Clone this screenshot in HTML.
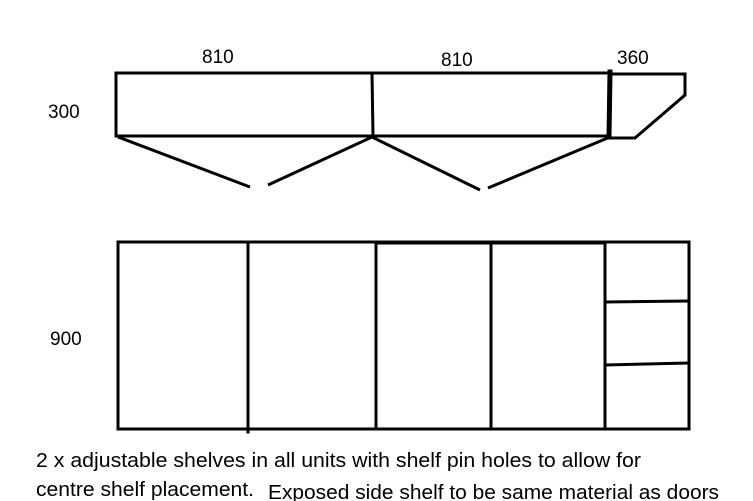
<!DOCTYPE html>
<html><head><meta charset="utf-8"><style>
html,body{margin:0;padding:0;background:#fff;width:753px;height:501px;overflow:hidden}
svg{display:block}
text{font-family:"Liberation Sans",sans-serif;fill:#000}
</style></head><body>
<svg width="753" height="501" viewBox="0 0 753 501" xmlns="http://www.w3.org/2000/svg">
<g fill="none" stroke="#000" stroke-width="3" stroke-linecap="square">
<!-- top plan -->
<line x1="116" y1="73" x2="610" y2="73"/>
<line x1="116" y1="136" x2="610" y2="136"/>
<line x1="116" y1="73" x2="116" y2="136"/>
<line x1="372" y1="73" x2="373" y2="136"/>
<line x1="610" y1="72" x2="609" y2="137" stroke-width="5"/>
<polyline points="612,74 685,74 685,95 635,138 612,138"/>
<polyline points="118,137 250,187" stroke-linecap="butt"/>
<polyline points="268,185 372,137 480,190" stroke-linecap="butt"/>
<polyline points="488,188 610,137" stroke-linecap="butt"/>
<!-- elevation -->
<rect x="118" y="242" width="571" height="187"/>
<line x1="248" y1="242" x2="248" y2="432"/>
<rect x="376" y="243" width="229" height="186"/>
<line x1="491" y1="243" x2="491" y2="429"/>
<line x1="605" y1="302" x2="688" y2="301"/>
<line x1="605" y1="365" x2="688" y2="363"/>
</g>
<text x="202" y="63" font-size="19">810</text>
<text x="441" y="66" font-size="19">810</text>
<text x="617" y="64" font-size="19">360</text>
<text x="48" y="118" font-size="19">300</text>
<text x="50" y="345" font-size="19">900</text>
<text x="36" y="467" font-size="20" textLength="605" lengthAdjust="spacingAndGlyphs">2 x adjustable shelves in all units with shelf pin holes to allow for</text>
<text x="36" y="496" font-size="20" textLength="218" lengthAdjust="spacingAndGlyphs">centre shelf placement.</text>
<text x="268" y="499" font-size="20" textLength="451" lengthAdjust="spacingAndGlyphs">Exposed side shelf to be same material as doors</text>
</svg>
</body></html>
